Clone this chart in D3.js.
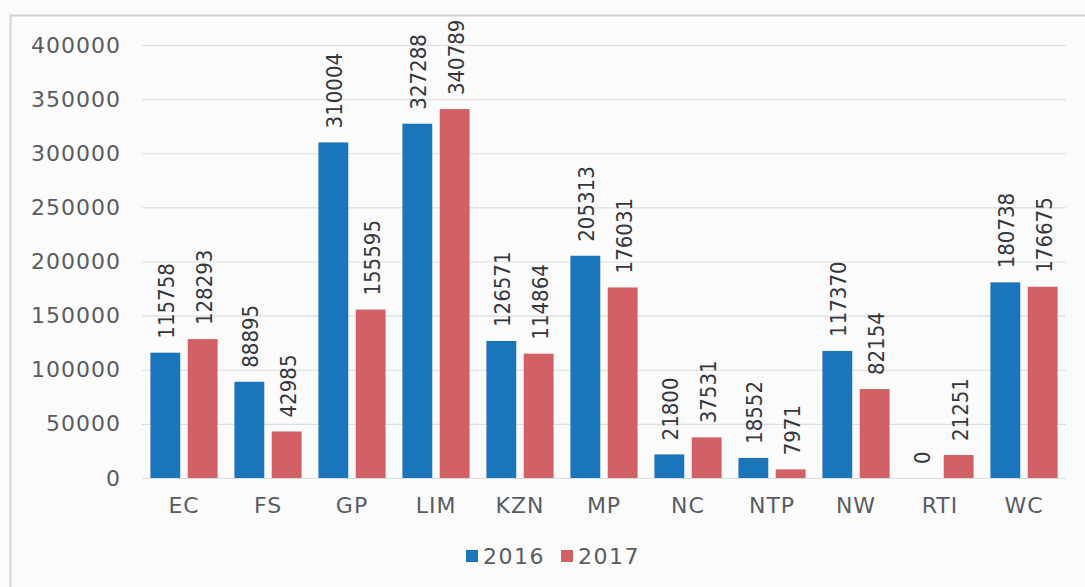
<!DOCTYPE html>
<html>
<head>
<meta charset="utf-8">
<script src="https://cdn.jsdelivr.net/npm/d3@7"></script>
<style>
  html, body { margin: 0; padding: 0; background: #fbfbfb; }
  svg { display: block; }
</style>
</head>
<body>
<svg id="chart" width="1085" height="587"></svg>
<script>
// Regions and yearly counts
const categories = ["EC", "FS", "GP", "LIM", "KZN", "MP", "NC", "NTP", "NW", "RTI", "WC"];
const seriesNames = ["2016", "2017"];
const values2016 = [115758, 88895, 310004, 327288, 126571, 205313, 21800, 18552, 117370, 0, 180738];
const values2017 = [128293, 42985, 155595, 340789, 114864, 176031, 37531, 7971, 82154, 21251, 176675];
const yTicks = [0, 50000, 100000, 150000, 200000, 250000, 300000, 350000, 400000];

const colors = { "2016": "#1b75bb", "2017": "#d26166" };
const seriesValues = { "2016": values2016, "2017": values2017 };

const svg = d3.select("#chart");
const W = 1085, H = 587;
const margin = { left: 142, right: 19, top: 45, bottom: 109 };
const textColor = "#595c62";
const baseFont = "'DejaVu Sans', Verdana, sans-serif";

// Outer frame
svg.append("rect").attr("x", 0).attr("y", 0).attr("width", W).attr("height", H).attr("fill", "#fbfbfb");
svg.append("path")
  .attr("d", `M10.5,${H} V15.5 H${W}`)
  .attr("fill", "none").attr("stroke", "#cfd2d7").attr("stroke-width", 2);

const x0 = d3.scaleBand()
  .domain(categories)
  .range([margin.left, W - margin.right])
  .paddingInner(0.2)
  .paddingOuter(0.1);

const x1 = d3.scaleBand()
  .domain(seriesNames)
  .range([0, x0.bandwidth()])
  .paddingInner(0.2);

const y = d3.scaleLinear()
  .domain([0, 400000])
  .range([H - margin.bottom, margin.top]);

// Gridlines
const grid = svg.append("g")
  .attr("transform", `translate(${margin.left},0)`)
  .call(d3.axisLeft(y).tickValues(yTicks).tickSize(-(W - margin.left - margin.right)).tickFormat(""));
grid.select(".domain").remove();
grid.selectAll("line").attr("stroke", "#dcdde0").attr("stroke-width", 1.2);

// Y tick labels
const yAxis = svg.append("g")
  .attr("transform", `translate(${margin.left - 21},0)`)
  .call(d3.axisLeft(y).tickValues(yTicks).tickSize(0).tickFormat(d3.format("d")));
yAxis.select(".domain").remove();
yAxis.selectAll("text")
  .attr("x", 0)
  .attr("fill", textColor)
  .style("font-family", baseFont)
  .style("font-size", "22px")
  .style("letter-spacing", "1px");

// X tick labels
const xAxis = svg.append("g")
  .attr("transform", `translate(0,${H - margin.bottom})`)
  .call(d3.axisBottom(x0).tickSize(0).tickPadding(19));
xAxis.select(".domain").remove();
xAxis.selectAll("text")
  .attr("fill", textColor)
  .style("font-family", baseFont)
  .style("font-size", "22px")
  .style("letter-spacing", "1px");

// Bars and value labels
const rows = categories.map((c, i) => ({
  cat: c,
  items: seriesNames.map(s => ({ series: s, value: seriesValues[s][i] }))
}));

const groups = svg.append("g").selectAll("g")
  .data(rows).join("g")
  .attr("transform", d => `translate(${x0(d.cat)},0)`);

groups.selectAll("rect")
  .data(d => d.items).join("rect")
  .attr("x", d => x1(d.series))
  .attr("width", x1.bandwidth())
  .attr("y", d => y(d.value))
  .attr("height", d => y(0) - y(d.value))
  .attr("fill", d => colors[d.series]);

groups.selectAll("text.val")
  .data(d => d.items).join("text")
  .attr("class", "val")
  .attr("transform", d => `translate(${x1(d.series) + x1.bandwidth() / 2 + 1},${y(d.value) - 14}) rotate(-90)`)
  .attr("dy", "0.36em")
  .attr("text-anchor", "start")
  .attr("fill", "#35373c")
  .style("font-family", "'DejaVu Sans Condensed', 'DejaVu Sans', sans-serif")
  .style("font-stretch", "condensed")
  .style("font-size", "22px")
  .text(d => d.value);

// Legend
const legend = svg.append("g").attr("transform", "translate(466,556)");
let lx = 0;
seriesNames.forEach(s => {
  legend.append("rect").attr("x", lx).attr("y", -6).attr("width", 12).attr("height", 12).attr("fill", colors[s]);
  const t = legend.append("text")
    .attr("x", lx + 17).attr("y", 0).attr("dy", "0.36em")
    .attr("fill", textColor)
    .style("font-family", baseFont)
    .style("font-size", "22px")
    .style("letter-spacing", "1.5px")
    .text(s);
  lx += 17 + t.node().getComputedTextLength() + 16;
});
</script>
</body>
</html>
